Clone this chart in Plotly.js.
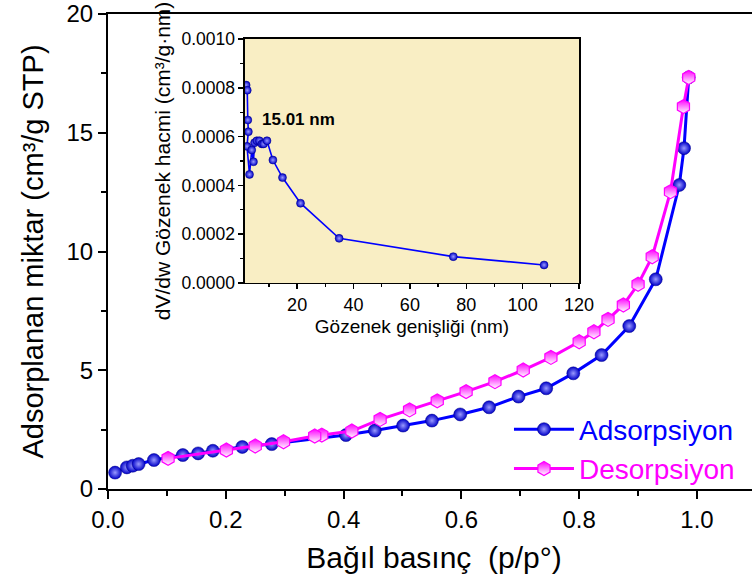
<!DOCTYPE html>
<html>
<head>
<meta charset="utf-8">
<script src="https://cdn.plot.ly/plotly-3.0.1.min.js"></script>
<style>
html,body{margin:0;padding:0;background:#fff;overflow:hidden;width:752px;height:582px;}
#chart{width:770px;height:582px;}
</style>
</head>
<body>
<div id="chart"></div>
<script>
// Main isotherm: adsorption branch
var adsX = [0.012, 0.032, 0.042, 0.052, 0.078, 0.127, 0.153, 0.178, 0.228, 0.278, 0.404, 0.453, 0.501, 0.550, 0.598, 0.647, 0.697, 0.744, 0.790, 0.838, 0.885, 0.930, 0.970, 0.978, 0.986];
var adsY = [0.69, 0.91, 0.98, 1.05, 1.22, 1.43, 1.50, 1.61, 1.77, 1.89, 2.27, 2.46, 2.67, 2.88, 3.14, 3.44, 3.89, 4.24, 4.87, 5.64, 6.86, 8.83, 12.8, 14.35, 17.33];
// Desorption branch
var desX = [0.986, 0.977, 0.955, 0.924, 0.900, 0.875, 0.849, 0.825, 0.800, 0.752, 0.705, 0.657, 0.608, 0.559, 0.512, 0.462, 0.414, 0.363, 0.351, 0.298, 0.250, 0.201, 0.102];
var desY = [17.33, 16.1, 12.52, 9.78, 8.62, 7.75, 7.14, 6.62, 6.20, 5.54, 5.01, 4.52, 4.10, 3.71, 3.33, 2.93, 2.44, 2.27, 2.23, 1.99, 1.81, 1.64, 1.29];
// Inset: pore size distribution
var psdX = [1.9, 2.3, 2.5, 2.7, 2.2, 3.1, 3.9, 4.5, 4.9, 5.7, 6.6, 7.5, 8.1, 9.3, 11.4, 14.8, 21.2, 34.9, 75.4, 107.6];
var psdY = [0.000811, 0.00079, 0.000668, 0.00062, 0.00056, 0.000445, 0.000545, 0.000497, 0.000575, 0.000583, 0.000583, 0.00057, 0.00057, 0.000583, 0.000504, 0.000432, 0.000327, 0.000183, 0.000108, 0.0000738];
var seriesNames = ['Adsorpsiyon', 'Desorpsiyon'];
var peakLabel = '15.01 nm';

var F = 'Arial, "Liberation Sans", sans-serif';
var BLUE = '#0000ff', MAG = '#ff00ff';
var NB = '\u00a0\u00a0\u00a0\u00a0';

var traces = [
  {x: adsX, y: adsY, type: 'scatter', mode: 'lines+markers', xaxis: 'x', yaxis: 'y',
   name: '<span style="color:' + BLUE + '">' + seriesNames[0] + '</span>',
   line: {color: BLUE, width: 3},
   marker: {symbol: 'circle', size: 13, color: '#0000c8',
            gradient: {type: 'radial', color: '#9a9aff'},
            line: {color: '#00008a', width: 0.5}}},
  {x: desX, y: desY, type: 'scatter', mode: 'lines+markers', xaxis: 'x', yaxis: 'y',
   name: '<span style="color:' + MAG + '">' + seriesNames[1] + '</span>',
   line: {color: MAG, width: 3},
   marker: {symbol: 'hexagon', size: 14, color: MAG,
            gradient: {type: 'vertical', color: '#ffffff'},
            line: {color: MAG, width: 1.2}}},
  {x: psdX, y: psdY, type: 'scatter', mode: 'lines+markers', xaxis: 'x2', yaxis: 'y2',
   showlegend: false, line: {color: BLUE, width: 1.6},
   marker: {symbol: 'circle', size: 8, color: '#0000c8',
            gradient: {type: 'radial', color: '#9a9aff'},
            line: {color: '#00008a', width: 0.5}}}
];

var layout = {
  width: 770, height: 582,
  margin: {l: 108, r: 10, t: 14, b: 93},
  paper_bgcolor: '#ffffff', plot_bgcolor: 'rgba(0,0,0,0)',
  font: {family: F, color: '#000'},
  showlegend: true,
  legend: {x: 0.615, y: 0.178, xanchor: 'left', yanchor: 'top',
           font: {family: F, size: 28}, bgcolor: 'rgba(0,0,0,0)',
           itemwidth: 60, tracegroupgap: 0},
  xaxis: {domain: [0, 1], range: [0, 1.107], anchor: 'y',
          showline: true, linecolor: '#000', linewidth: 2, mirror: true,
          showgrid: false, zeroline: false,
          ticks: 'outside', ticklen: 8, tickwidth: 2, tickcolor: '#000',
          dtick: 0.2, tick0: 0, tickformat: '.1f',
          tickfont: {family: F, size: 24},
          minor: {dtick: 0.1, ticks: 'outside', ticklen: 5, tickwidth: 2, tickcolor: '#000', showgrid: false},
          title: {text: 'Bağıl basınç  (p/p°)' + NB, font: {family: F, size: 30}, standoff: 15}},
  yaxis: {domain: [0, 1], range: [0, 20], anchor: 'x',
          showline: true, linecolor: '#000', linewidth: 2, mirror: true,
          showgrid: false, zeroline: false,
          ticks: 'outside', ticklen: 8, tickwidth: 2, tickcolor: '#000',
          dtick: 5, tick0: 0,
          tickfont: {family: F, size: 24},
          minor: {dtick: 2.5, ticks: 'outside', ticklen: 5, tickwidth: 2, tickcolor: '#000', showgrid: false},
          title: {text: 'Adsorplanan miktar (cm³/g STP)', font: {family: F, size: 29}, standoff: 14}},
  xaxis2: {domain: [0.2101, 0.7224], range: [1.5, 120], anchor: 'y2',
           showline: true, linecolor: '#000', linewidth: 1.5, mirror: true,
           showgrid: false, zeroline: false,
           ticks: 'outside', ticklen: 5, tickwidth: 1.5, tickcolor: '#000',
           dtick: 20, tick0: 0,
           tickfont: {family: F, size: 18},
           minor: {dtick: 10, ticks: 'outside', ticklen: 3, tickwidth: 1.2, tickcolor: '#000', showgrid: false},
           title: {text: 'Gözenek genişliği (nm)', font: {family: F, size: 19}, standoff: 5}},
  yaxis2: {domain: [0.4337, 0.9474], range: [0, 0.001], anchor: 'x2',
           showline: true, linecolor: '#000', linewidth: 1.5, mirror: true,
           showgrid: false, zeroline: false,
           ticks: 'outside', ticklen: 5, tickwidth: 1.5, tickcolor: '#000',
           dtick: 0.0002, tick0: 0, tickformat: '.4f',
           tickfont: {family: F, size: 17.5},
           minor: {dtick: 0.0001, ticks: 'outside', ticklen: 3, tickwidth: 1.2, tickcolor: '#000', showgrid: false},
           title: {text: 'dV/dw Gözenek hacmi (cm³/g·nm)', font: {family: F, size: 21}, standoff: 5}},
  shapes: [
    {type: 'rect', xref: 'x2 domain', yref: 'y2 domain', x0: 0, x1: 1, y0: 0, y1: 1,
     fillcolor: '#f9eec4', line: {width: 0}, layer: 'below'}
  ],
  annotations: [
    {xref: 'x2', yref: 'y2', x: 6.8, y: 0.000668, xanchor: 'left', yanchor: 'middle',
     text: '<b>' + peakLabel + '</b>', showarrow: false, font: {family: F, size: 17, color: '#000'}}
  ]
};

Plotly.newPlot('chart', traces, layout, {displayModeBar: false, staticPlot: true});
</script>
</body>
</html>
